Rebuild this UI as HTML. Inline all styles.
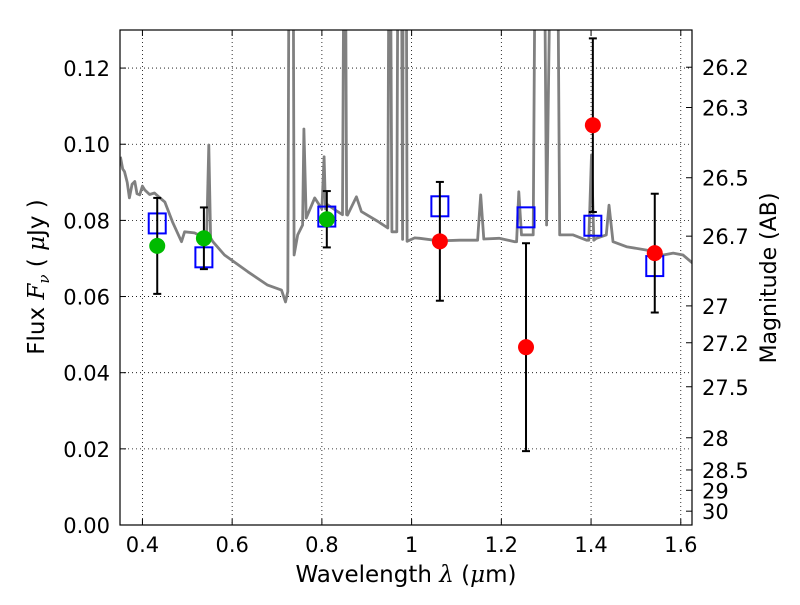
<!DOCTYPE html>
<html><head><meta charset="utf-8"><style>
body{margin:0;background:#fff;}
svg text{font-family:"DejaVu Sans","Liberation Sans",sans-serif;fill:#000;}
</style></head><body>
<svg id="chart" width="800" height="600" xmlns="http://www.w3.org/2000/svg"></svg>
<script>
const specWave=[0.351,0.356,0.360,0.366,0.371,0.377,0.383,0.388,0.394,0.400,0.405,0.416,0.427,0.438,0.450,0.467,0.487,0.494,0.516,0.539,0.543,0.548,0.552,0.557,0.583,0.635,0.679,0.710,0.719,0.724,0.728,0.735,0.738,0.746,0.757,0.760,0.765,0.784,0.800,0.805,0.808,0.813,0.835,0.846,0.851,0.855,0.857,0.877,0.888,0.925,0.947,0.951,0.956,0.967,0.971,0.976,0.980,0.982,0.987,0.990,1.007,1.018,1.062,1.107,1.147,1.154,1.161,1.195,1.230,1.234,1.239,1.245,1.271,1.278,1.286,1.293,1.301,1.315,1.323,1.330,1.360,1.390,1.395,1.401,1.406,1.412,1.434,1.440,1.449,1.479,1.524,1.561,1.583,1.605,1.627];
const specFlux=[0.0967,0.0935,0.0928,0.0900,0.0859,0.0895,0.0902,0.0870,0.0867,0.0890,0.0880,0.0868,0.0872,0.0860,0.0848,0.0796,0.0744,0.0770,0.0767,0.0754,0.0754,0.0998,0.0754,0.0744,0.0709,0.0665,0.0630,0.0617,0.0586,0.0613,0.2,0.2,0.0709,0.0762,0.0788,0.1040,0.0806,0.0859,0.0830,0.0967,0.0830,0.0841,0.0823,0.0815,0.2,0.0815,0.0814,0.0862,0.0823,0.0797,0.078,0.2,0.077,0.077,0.2,0.2,0.075,0.2,0.2,0.0745,0.0754,0.0753,0.0746,0.0748,0.0748,0.0867,0.0751,0.0753,0.0744,0.0744,0.0875,0.0762,0.0762,0.2,0.2,0.2,0.0788,0.2,0.2,0.0762,0.0762,0.0748,0.0748,0.0972,0.0748,0.0753,0.0762,0.0840,0.0744,0.0731,0.0722,0.0709,0.0714,0.0709,0.0687];
const bandWave=[0.433,0.537,0.811,1.063,1.255,1.404,1.542];
const modelFlux=[0.0792,0.0703,0.0810,0.0837,0.0808,0.0786,0.0680];
const obsFlux=[0.0733,0.0753,0.0803,0.0745,0.0467,0.1050,0.0714];
const obsErr=[0.0126,0.0081,0.0074,0.0156,0.0273,0.0228,0.0156];
const obsColor=['#00bb00','#00bb00','#00bb00','#ff0000','#ff0000','#ff0000','#ff0000'];
const xTicks=[0.4,0.6,0.8,1.0,1.2,1.4,1.6];
const xTickLabels=['0.4','0.6','0.8','1','1.2','1.4','1.6'];
const yTicks=[0,0.02,0.04,0.06,0.08,0.10,0.12];
const yTickLabels=['0.00','0.02','0.04','0.06','0.08','0.10','0.12'];
const magTicks=[26.2,26.3,26.5,26.7,27,27.2,27.5,28,28.5,29,30];
const magTickLabels=['26.2','26.3','26.5','26.7','27','27.2','27.5','28','28.5','29','30'];

const L=120,R=692,T=30,B=525,X0=0.35,X1=1.625,Y0=0,Y1=0.13;
const sx=v=>L+(v-X0)/(X1-X0)*(R-L);
const sy=v=>B-(v-Y0)/(Y1-Y0)*(B-T);
const NS='http://www.w3.org/2000/svg';
const svg=document.getElementById('chart');
function mk(tag,attrs,parent){const e=document.createElementNS(NS,tag);for(const k in attrs)e.setAttribute(k,attrs[k]);(parent||svg).appendChild(e);return e;}

const defs=mk('defs',{});
const cp=mk('clipPath',{id:'clip'},defs);
mk('rect',{x:L,y:T,width:R-L,height:B-T},cp);

const grid=mk('g',{});


xTicks.forEach(v=>{mk('line',{x1:sx(v),x2:sx(v),y1:T,y2:B,stroke:'#000','stroke-width':0.8,'stroke-dasharray':'1,3'},grid);});
yTicks.forEach(v=>{mk('line',{x1:L,x2:R,y1:sy(v),y2:sy(v),stroke:'#000','stroke-width':0.8,'stroke-dasharray':'1,3'},grid);});

const pts=specWave.map((w,i)=>sx(w).toFixed(1)+','+sy(specFlux[i]).toFixed(1)).join(' ');
const spec=mk('polyline',{points:pts,fill:'none',stroke:'#808080','stroke-width':2.8,'stroke-linejoin':'round','clip-path':'url(#clip)'});



bandWave.forEach((w,i)=>{
  const r=mk('rect',{x:sx(w)-8.5,y:sy(modelFlux[i])-10,width:17,height:20,fill:'none',stroke:'#0000ff','stroke-width':2});
  
  
});
bandWave.forEach((w,i)=>{
  const g=mk('g',{});
  
  
  const x=sx(w),y1=sy(obsFlux[i]+obsErr[i]),y2=sy(obsFlux[i]-obsErr[i]);
  mk('line',{x1:x,x2:x,y1:y1,y2:y2,stroke:'#000','stroke-width':2},g);
  mk('line',{x1:x-4,x2:x+4,y1:y1,y2:y1,stroke:'#000','stroke-width':2},g);
  mk('line',{x1:x-4,x2:x+4,y1:y2,y2:y2,stroke:'#000','stroke-width':2},g);
});
bandWave.forEach((w,i)=>{
  const c=mk('circle',{cx:sx(w),cy:sy(obsFlux[i]),r:8,fill:obsColor[i]});
  
  
});

const fr=mk('rect',{x:L,y:T,width:R-L,height:B-T,fill:'none',stroke:'#000','stroke-width':1.2});



xTicks.forEach((v,i)=>{
  mk('line',{x1:sx(v),x2:sx(v),y1:B,y2:B-6,stroke:'#000'});
  mk('line',{x1:sx(v),x2:sx(v),y1:T,y2:T+6,stroke:'#000'});
  const t=mk('text',{x:sx(v),y:B+27,'text-anchor':'middle','font-size':21});
  t.textContent=xTickLabels[i];
  
  
});
yTicks.forEach((v,i)=>{
  mk('line',{x1:L,x2:L+6,y1:sy(v),y2:sy(v),stroke:'#000'});
  const t=mk('text',{x:L-10,y:sy(v)+8,'text-anchor':'end','font-size':21});
  t.textContent=yTickLabels[i];
  
  
});
magTicks.forEach((m,i)=>{
  const f=Math.pow(10,(23.9-m)/2.5);
  const y=sy(f);
  mk('line',{x1:R,x2:R-6,y1:y,y2:y,stroke:'#000'});
  const t=mk('text',{x:R+10,y:y+8,'text-anchor':'start','font-size':21});
  t.textContent=magTickLabels[i];
  
  
});

const xl=mk('text',{x:406,y:582,'text-anchor':'middle','font-size':23,'xml:space':'preserve'});
xl.innerHTML='Wavelength  <tspan font-style="italic" font-family="DejaVu Serif, serif">λ</tspan> (<tspan font-style="italic" font-family="DejaVu Serif, serif">μ</tspan>m)';


const yl=mk('text',{x:0,y:0,'text-anchor':'middle','font-size':23,transform:'translate(44,277) rotate(-90)','xml:space':'preserve'});
yl.innerHTML='Flux  <tspan font-style="italic" font-family="DejaVu Serif, serif">F</tspan><tspan font-style="italic" font-size="15" dy="5" font-family="DejaVu Serif, serif">ν</tspan><tspan dy="-5">  (  </tspan><tspan font-style="italic" font-family="DejaVu Serif, serif">μ</tspan>Jy )';


const rl=mk('text',{x:0,y:0,'text-anchor':'middle','font-size':22,transform:'translate(776,278) rotate(-90)'});
rl.textContent='Magnitude (AB)';


</script>
</body></html>
